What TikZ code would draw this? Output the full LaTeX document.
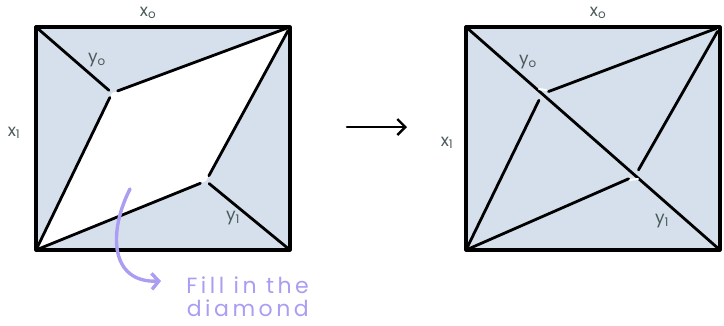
\documentclass[tikz,border=0pt]{standalone}
\usepackage{fontspec}
\setmainfont{Poppins}
\usetikzlibrary{arrows.meta}
\definecolor{PanelBlue}{RGB}{213,224,236}
\definecolor{LabelSlate}{RGB}{74,90,90}
\definecolor{NoteLilac}{RGB}{170,158,242}

\begin{document}
\begin{tikzpicture}[x=1pt,y=-1pt,line cap=round,line join=round,
    every node/.style={font=\fontsize{17}{20}\selectfont,text=LabelSlate,inner sep=0pt},
    edge/.style={line width=2.8pt,black},
    rim/.style={line width=3.2pt,black}]
  \useasboundingbox (0,0) rectangle (724,325);
  \coordinate (lTL) at (36,27); \coordinate (lTR) at (290,27); \coordinate (lBL) at (36,250); \coordinate (lBR) at (290,250);
  \coordinate (lY0) at (112,93); \coordinate (lY1) at (206,181);
  \fill[PanelBlue] (lTL) rectangle (lBR);
  \fill[white] (lTR) -- (lY0) -- (lBL) -- (lY1) -- cycle;
  \draw[rim] (lTL) rectangle (lBR);
  \draw[edge,shorten <=3pt,shorten >=4pt] (lTL) -- (lY0);
  \draw[edge,shorten <=6pt,shorten >=3pt] (lY0) -- (lTR);
  \draw[edge,shorten <=5pt,shorten >=3pt] (lY0) -- (lBL);
  \draw[edge,shorten <=3pt,shorten >=6pt] (lBL) -- (lY1);
  \draw[edge,shorten <=6pt,shorten >=4pt] (lY1) -- (lTR);
  \draw[edge,shorten <=4pt,shorten >=4pt] (lY1) -- (lBR);
  \node (lx0) at (148,13) {x\textsubscript{o}};
  \node (ly0) at (97,60) {y\textsubscript{o}};
  \node (lx1) at (14,133) {x\textsubscript{1}};
  \node (ly1) at (233,218) {y\textsubscript{1}};
  \coordinate (rTL) at (466,27); \coordinate (rTR) at (720,27); \coordinate (rBL) at (466,250); \coordinate (rBR) at (720,250);
  \coordinate (rY0) at (542,94); \coordinate (rY1) at (635,176);
  \fill[PanelBlue] (rTL) rectangle (rBR);
  \draw[rim] (rTL) rectangle (rBR);
  \draw[edge,shorten <=4pt,shorten >=4pt] (rTL) -- (rBR);
  \draw[white,line width=2pt] (539,89) -- (546,90);
  \draw[white,line width=2pt] (629,180) -- (638,179);
  \draw[edge,shorten <=7pt,shorten >=4pt] (rY0) -- (rTR);
  \draw[edge,shorten <=7pt,shorten >=3pt] (rY0) -- (rBL);
  \draw[edge,shorten <=3pt,shorten >=7pt] (rBL) -- (rY1);
  \draw[edge,shorten <=7pt,shorten >=5pt] (rY1) -- (rTR);
  \node (rx0) at (598,13) {x\textsubscript{o}};
  \node (ry0) at (528,62) {y\textsubscript{o}};
  \node (rx1) at (447,143) {x\textsubscript{1}};
  \node (ry1) at (662,221) {y\textsubscript{1}};
  \coordinate (goFrom) at (347,127); \coordinate (goTo) at (407,127);
  \draw[-{Straight Barb[length=8pt,width=16pt]},line width=2.4pt] (goFrom) -- (goTo);
  \node[text=NoteLilac,font=\fontsize{22}{23}\selectfont\addfontfeatures{LetterSpace=16},align=right,anchor=north east] (note) at (309,277) {Fill in the\\diamond};
  \coordinate (noteFrom) at (130,189); \coordinate (noteTo) at (161,281);
  \draw[NoteLilac,line width=3.4pt,-{Straight Barb[length=7pt,width=16pt]}] (noteFrom) .. controls (108,232) and (110,283) .. (noteTo);
\end{tikzpicture}
\end{document}
